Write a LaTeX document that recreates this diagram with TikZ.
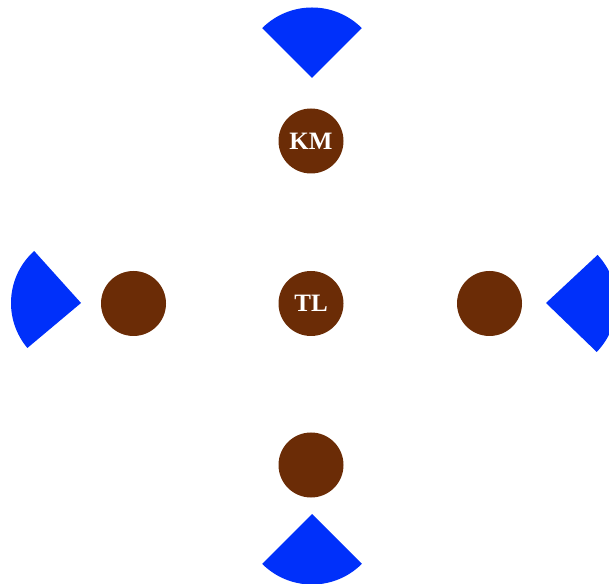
\documentclass[tikz,border=0pt]{standalone}
\usepackage{fontspec}
\setmainfont{Liberation Serif}
\definecolor{brownfill}{RGB}{107,44,6}
\definecolor{bluefill}{RGB}{0,48,250}
\tikzset{
  disc/.style={circle,fill=brownfill,minimum size=65pt,inner sep=0pt,text=white,font=\bfseries\fontsize{25}{25}\selectfont},
  sector/.style={fill=bluefill}
}
\begin{document}
\begin{tikzpicture}[x=1pt,y=1pt]
\useasboundingbox (0,0) rectangle (609,583);
\clip (0,0) rectangle (609,583);
\node[disc] (tl) at (311,279.5) {TL};
\node[disc] (km) at (311,442) {KM};
\node[disc] (bot) at (311,118) {};
\node[disc] (lft) at (133.5,279.5) {};
\node[disc] (rgt) at (489.5,279.5) {};
\coordinate (stop) at (312,505);
\coordinate (sbot) at (312,69);
\coordinate (slft) at (81,280);
\coordinate (srgt) at (546,280);
\fill[sector] (stop) -- ++(45:70.5) arc[start angle=45,end angle=135,radius=70.5] -- cycle;
\fill[sector] (sbot) -- ++(225:70.5) arc[start angle=225,end angle=315,radius=70.5] -- cycle;
\fill[sector] (slft) -- ++(132:70) arc[start angle=132,end angle=220,radius=70] -- cycle;
\fill[sector] (srgt) -- ++(-44:70.5) arc[start angle=-44,end angle=43,radius=70.5] -- cycle;
\end{tikzpicture}
\end{document}
